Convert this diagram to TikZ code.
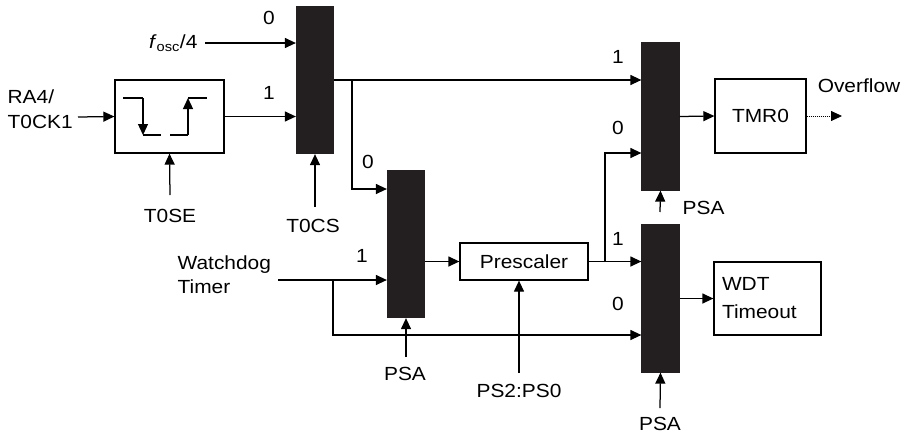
\documentclass[tikz,border=0pt]{standalone}
\usepackage{fontspec}
\setmainfont{Liberation Sans}[FakeStretch=1.1]
\usetikzlibrary{arrows.meta,positioning}
\definecolor{muxfill}{RGB}{35,31,32}

\begin{document}
\begin{tikzpicture}[x=1pt, y=-1pt, line width=1.25pt,
	>={Triangle[length=11pt,width=10pt]},
	mux/.style={draw=muxfill, fill=muxfill, minimum width=37pt, minimum height=147pt, inner sep=0pt},
	blk/.style={draw, inner sep=0pt},
	txt/.style={inner sep=0pt, font=\fontsize{19}{24.5}\selectfont}]
	\useasboundingbox (0,0) rectangle (905,437);
	% multiplexers and blocks
	\node[mux] (mux1) at (315,80) {};
	\node[mux] (mux2) at (406,244) {};
	\node[mux] (mux3) at (660.5,116.5) {};
	\node[mux] (mux4) at (660.5,298.5) {};
	\node[blk, minimum width=109pt, minimum height=73pt] (trig) at (169.5,116.5) {};
	\node[blk, txt, minimum width=128pt, minimum height=37pt] (pre) at (524,261.5) {Prescaler};
	\node[blk, txt, minimum width=91pt, minimum height=74pt] (tmr) at (760.5,116) {TMR0};
	\node[blk, txt, inner xsep=8pt, text width=91pt, minimum height=73pt, align=left, font=\fontsize{19}{28}\selectfont] (wdt) at (767.5,298.5) {WDT\\Timeout};
	% labels
	\node[txt, align=left, anchor=west] (ra4) at (7,109) {RA4/\\T0CK1};
	\node[txt, anchor=east] (fosc) at (198,43) {\textit{f}\textsubscript{osc}/4};
	\node[txt] (t0se) at (170,216) {T0SE};
	\node[txt] (t0cs) at (313,226) {T0CS};
	\node[txt, align=left, anchor=west] (wdog) at (177,274.5) {Watchdog\\Timer};
	\node[txt] (psa2) at (405,374) {PSA};
	\node[txt] (pssel) at (519,391) {PS2:PS0};
	\node[txt, anchor=west] (psa3) at (682,208) {PSA};
	\node[txt] (psa4) at (660,424) {PSA};
	\node[txt] (ovf) at (859,86) {Overflow};
	\node[txt] (m1a) at (269,18) {0};
	\node[txt] (m1b) at (269,93) {1};
	\node[txt] (m2a) at (368,162) {0};
	\node[txt] (m2b) at (362,256) {1};
	\node[txt] (m3a) at (618,57) {1};
	\node[txt] (m3b) at (618,128) {0};
	\node[txt] (m4a) at (618,239) {1};
	\node[txt] (m4b) at (618,304) {0};
	% free ends and branch points
	\coordinate (ra4e) at (78,117);
	\coordinate (fosce) at (205,43);
	\coordinate (t0sen) at (170,195);
	\coordinate (t0csn) at (315,207);
	\coordinate (wdoge) at (278,280);
	\coordinate (br1) at (352,80);
	\coordinate (br2) at (333,280);
	\coordinate (br3) at (605,262);
	\coordinate (psa2n) at (406,357);
	\coordinate (psseln) at (519,373);
	\coordinate (psa3n) at (660,212);
	\coordinate (psa4n) at (660,408);
	\coordinate (ovfe) at (842,116);
	% edge detector symbol
	\draw (123,98) -- (143,98);
	\draw[->] (143,98) -- (143,135);
	\draw (143,135) -- (161,135);
	\draw (170,135) -- (188,135);
	\draw[->] (188,135) -- (188,98);
	\draw (188,98) -- (207,98);
	% connections
	\draw[->] (ra4e) -- (trig.west);
	\draw[->] (fosce) -- (fosce -| mux1.west);
	\draw[->] (trig.east) -- (trig.east -| mux1.west);
	\draw[->] (t0sen) -- (trig.south);
	\draw[->] (t0csn) -- (mux1.south);
	\draw[->] (mux1.east) -- (mux1.east -| mux3.west);
	\draw[->] (br1) |- ([yshift=55pt]mux2.west);
	\draw[->] (wdoge) -- (wdoge -| mux2.west);
	\draw[->] (br2) |- ([yshift=-36.5pt]mux4.west);
	\draw[->] (psa2n) -- (mux2.south);
	\draw[->] (mux2.east |- pre.west) -- (pre.west);
	\draw[->] ([xshift=-5pt]pre.south |- psseln) -- ([xshift=-5pt]pre.south);
	\draw[->] (pre.east) -- (pre.east -| mux4.west);
	\draw[->] (br3) |- ([yshift=-36.5pt]mux3.west);
	\draw[->] (psa3n) -- (mux3.south);
	\draw[->] (psa4n) -- (mux4.south);
	\draw[->] (mux3.east) -- (tmr.west);
	\draw[->] (mux4.east) -- (wdt.west);
	\draw[->, dash pattern=on 1pt off 1pt, line width=0.8pt] (tmr.east) -- (ovfe);
\end{tikzpicture}
\end{document}
